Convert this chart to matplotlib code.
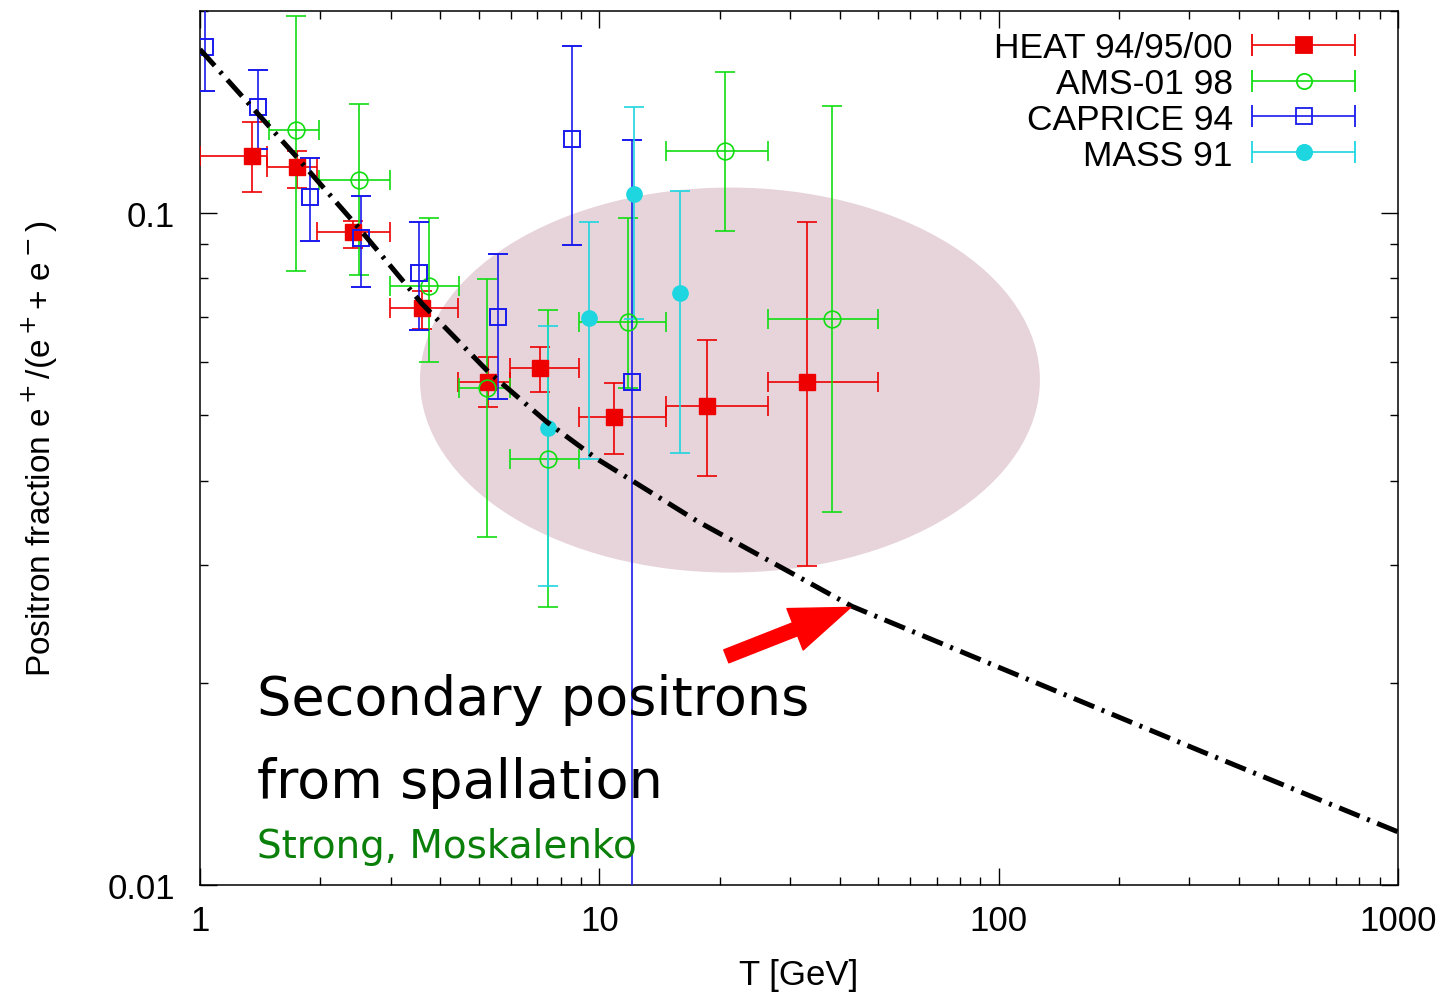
import numpy as np
import matplotlib
matplotlib.use("Agg")
import matplotlib.pyplot as plt
from matplotlib.patches import Ellipse
from matplotlib.legend_handler import HandlerErrorbar

# HEAT 94/95/00
heat_x = [1.35, 1.75, 2.42, 3.60, 5.27, 7.10, 10.9, 18.6, 33.1]
heat_xlo = [1.0, 1.47, 1.96, 2.99, 4.44, 5.99, 8.90, 14.7, 26.4]
heat_xhi = [1.47, 1.96, 2.99, 4.44, 5.98, 8.90, 14.7, 26.4, 50.0]
heat_y = [0.1217, 0.1172, 0.0939, 0.0722, 0.0561, 0.0588, 0.0497, 0.0517, 0.0560]
heat_ylo = [0.1074, 0.1092, 0.0889, 0.0672, 0.0514, 0.0542, 0.0438, 0.0406, 0.0298]
heat_yhi = [0.1366, 0.1240, 0.0974, 0.0766, 0.0612, 0.0633, 0.0558, 0.0648, 0.0969]

# AMS-01 98
ams_x = [1.74, 2.50, 3.75, 5.22, 7.43, 11.8, 20.6, 38.2]
ams_xlo = [1.49, 1.99, 2.99, 4.46, 5.99, 8.90, 14.7, 26.4]
ams_xhi = [1.99, 2.99, 4.46, 5.98, 8.90, 14.7, 26.4, 50.0]
ams_y = [0.1329, 0.1120, 0.0779, 0.0549, 0.0431, 0.0689, 0.1238, 0.0697]
ams_ylo = [0.0820, 0.0809, 0.0600, 0.0330, 0.0259, 0.0549, 0.0941, 0.0359]
ams_yhi = [0.1966, 0.1456, 0.0985, 0.0799, 0.0718, 0.0985, 0.1623, 0.1444]

# CAPRICE 94
cap_x = [1.03, 1.40, 1.89, 2.53, 3.54, 5.58, 8.56, 12.1]
cap_y = [0.1768, 0.1437, 0.1058, 0.0918, 0.0816, 0.0700, 0.1288, 0.0560]
cap_ylo = [0.152, 0.1245, 0.0908, 0.0778, 0.0670, 0.0529, 0.0896, 0.005]
cap_yhi = [0.21, 0.1632, 0.121, 0.106, 0.0969, 0.0871, 0.1774, 0.1284]

# MASS 91
mass_x = [7.45, 9.44, 12.2, 15.9]
mass_y = [0.0479, 0.0698, 0.1070, 0.0760]
mass_ylo = [0.0279, 0.0431, 0.0697, 0.0440]
mass_yhi = [0.0680, 0.0969, 0.1440, 0.1080]

# secondary positron curve (Strong, Moskalenko)
curve_x = [1.0, 1.75, 2.49, 3.60, 5.27, 7.39, 9.86, 17.6, 42.9, 100, 323, 1000]
curve_y = [0.1754, 0.1211, 0.0953, 0.0733, 0.0581, 0.0489, 0.0431, 0.0348, 0.0260, 0.0211, 0.0158, 0.0120]

red = '#ee0000'
green = '#11dd11'
blue = '#1a1aee'
cyan = '#1ed6e0'

plt.rcParams['font.family'] = ['Liberation Sans', 'DejaVu Sans']

fig = plt.figure(figsize=(14.47, 9.95), dpi=100)
ax = fig.add_axes([0.1382, 0.1095, 0.8279, 0.8784])


def err(v, lo, hi):
    v = np.array(v)
    return [v - np.array(lo), np.array(hi) - v]


# shaded region of interest
ell = Ellipse((0.4424, 0.5778), 0.5175, 0.4405, transform=ax.transAxes,
              facecolor='#e7d4db', edgecolor='none', zorder=0.5)
ax.add_patch(ell)

ekw = dict(linestyle='none', elinewidth=1.2, capsize=7, capthick=1.2, zorder=3)
ax.errorbar(heat_x, heat_y, xerr=err(heat_x, heat_xlo, heat_xhi),
            yerr=err(heat_y, heat_ylo, heat_yhi), fmt='s', color=red,
            markersize=12, **ekw)
ax.errorbar(ams_x, ams_y, xerr=err(ams_x, ams_xlo, ams_xhi),
            yerr=err(ams_y, ams_ylo, ams_yhi), fmt='o', color=green,
            markersize=12, markerfacecolor='none', markeredgewidth=1.2, **ekw)
ax.errorbar(cap_x, cap_y, yerr=err(cap_y, cap_ylo, cap_yhi), fmt='s', color=blue,
            markersize=12, markerfacecolor='none', markeredgewidth=1.4, **ekw)
ax.errorbar(mass_x, mass_y, yerr=err(mass_y, mass_ylo, mass_yhi), fmt='o', color=cyan,
            markersize=11, **ekw)

ax.plot(curve_x, curve_y, color='black', linewidth=3.6,
        linestyle=(0, (4.4, 1.6, 0.6, 1.6)), dash_capstyle='butt', zorder=5)

# legend proxies (horizontal bars only, like the gnuplot key)
handles = []
for c, m, fc in [(red, 's', red), (green, 'o', 'none'), (blue, 's', 'none'), (cyan, 'o', cyan)]:
    h = ax.errorbar([np.nan], [np.nan], xerr=[1], fmt=m, color=c, markersize=11,
                    markerfacecolor=fc, markeredgewidth=1.3, elinewidth=1.2,
                    capsize=8, capthick=1.2)
    handles.append(h)
labels = ['HEAT 94/95/00', 'AMS-01 98', 'CAPRICE 94', 'MASS 91']
hmap = {h: HandlerErrorbar(xerr_size=1.45, numpoints=1) for h in handles}
leg = ax.legend(handles, labels, loc='upper right', bbox_to_anchor=(0.967, 0.981),
                markerfirst=False, frameon=False,
                fontsize=25.5, handlelength=2.9, handletextpad=0.55, labelspacing=0.08,
                borderaxespad=0.0, borderpad=0.1, handler_map=hmap)

ax.set_xscale('log')
ax.set_yscale('log')
ax.set_xlim(1, 1000)
ax.set_ylim(0.01, 0.2)
ax.set_xticks([1, 10, 100, 1000])
ax.set_xticklabels(['1', '10', '100', '1000'])
ax.set_yticks([0.01, 0.1])
ax.set_yticklabels(['0.01', '0.1'])
ax.tick_params(which='both', direction='in', top=True, right=True, labelsize=25, width=1.0)
ax.tick_params(which='major', length=12)
ax.tick_params(which='minor', length=6)
ax.tick_params(axis='x', which='major', pad=14)
ax.tick_params(axis='y', which='major', pad=18)
ax.yaxis.set_minor_formatter(matplotlib.ticker.NullFormatter())
ax.xaxis.set_minor_formatter(matplotlib.ticker.NullFormatter())
for s in ax.spines.values():
    s.set_linewidth(1.1)

ax.set_xlabel('T [GeV]', fontsize=25)
ax.set_ylabel('Positron fraction e$^+$/(e$^+$+ e$^-$)', fontsize=24)
ax.xaxis.set_label_coords(0.5, -0.083)
ax.yaxis.set_label_coords(-0.117, 0.5)

# annotation
ax.annotate('', xy=(42.6, 0.0259), xytext=(20.8, 0.0219),
            arrowprops=dict(arrowstyle='simple,head_length=4.3,head_width=3.2,tail_width=1.0',
                            color='red', mutation_scale=10, shrinkA=0, shrinkB=0), zorder=6)
ax.text(0.0476, 0.1957, 'Secondary positrons', transform=ax.transAxes, fontsize=39,
        family='DejaVu Sans', va='baseline', ha='left', zorder=6)
ax.text(0.0476, 0.1007, 'from spallation', transform=ax.transAxes, fontsize=39,
        family='DejaVu Sans', va='baseline', ha='left', zorder=6)
ax.text(0.0476, 0.032, 'Strong, Moskalenko', transform=ax.transAxes, fontsize=28,
        family='DejaVu Sans', color='#0a800a', va='baseline', ha='left', zorder=6)

fig.savefig('out.png', dpi=100)
